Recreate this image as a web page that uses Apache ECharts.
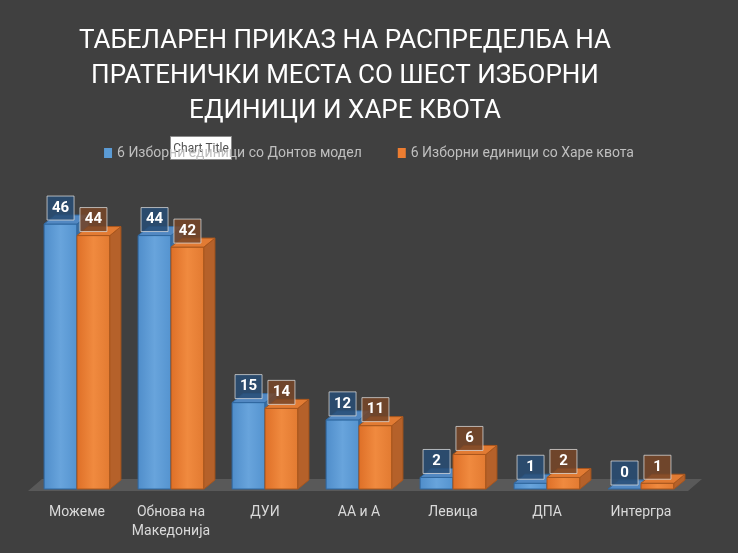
<!DOCTYPE html>
<html>
<head>
<meta charset="utf-8">
<script src="https://cdn.jsdelivr.net/npm/echarts@6/dist/echarts.min.js"></script>
<style>
  html, body { margin: 0; padding: 0; background: #404040; }
  #chart { width: 738px; height: 553px; }
</style>
</head>
<body>
<div id="chart"></div>
<script>
// податоци од графикот
const categories = ['Можеме', 'Обнова на\nМакедонија', 'ДУИ', 'АА и А', 'Левица', 'ДПА', 'Интергра'];
const seriesNames = ['6 Изборни единици со Донтов модел', '6 Изборни единици со Харе квота'];
const dontValues = [46, 44, 15, 12, 2, 1, 0];
const hareValues = [44, 42, 14, 11, 6, 2, 1];

const styles = [
  {
    front: ['#4f8dca', '#68a4dc', '#5493cf'],
    side: '#3e6f9f',
    top: '#5288c2',
    edge: '#2f679f',
    labelBg: 'rgba(40,78,118,0.85)'
  },
  {
    front: ['#de6f27', '#f08a3f', '#e27a31'],
    side: '#b5612a',
    top: '#e27b33',
    edge: '#a9561d',
    labelBg: 'rgba(120,70,40,0.85)'
  }
];

const DX = 11, DY = -9;

function bar3d(seriesIndex) {
  const st = styles[seriesIndex];
  return function (params, api) {
    const idx = api.value(0);
    const val = api.value(1);
    const top = api.coord([idx, val]);
    const base = api.coord([idx, 0]);
    const band = api.size([1, 0])[0];
    const w = band * 0.35;
    const x0 = seriesIndex === 0 ? top[0] - w : top[0];
    const x1 = x0 + w;
    const yT = top[1], yB = base[1];
    const h = yB - yT;
    const children = [];
    if (h > 0) {
      children.push({
        type: 'rect',
        shape: { x: x0, y: yT, width: w, height: h },
        style: {
          fill: new echarts.graphic.LinearGradient(0, 0, 1, 0, [
            { offset: 0, color: st.front[0] },
            { offset: 0.5, color: st.front[1] },
            { offset: 1, color: st.front[2] }
          ]),
          stroke: st.edge, lineWidth: 1
        }
      });
      children.push({
        type: 'polygon',
        shape: { points: [[x1, yT], [x1 + DX, yT + DY], [x1 + DX, yB + DY], [x1, yB]] },
        style: { fill: st.side, stroke: st.edge, lineWidth: 1 }
      });
    }
    children.push({
      type: 'polygon',
      shape: { points: [[x0, yT], [x0 + DX, yT + DY], [x1 + DX, yT + DY], [x1, yT]] },
      style: { fill: st.top, stroke: st.edge, lineWidth: 1 }
    });
    // ознака со вредност
    const bw = 27, bh = 24;
    const cx = x0 + w / 2;
    const by = yT - 4 - bh;
    children.push({
      type: 'rect',
      shape: { x: cx - bw / 2, y: by, width: bw, height: bh },
      style: { fill: st.labelBg, stroke: 'rgba(220,220,220,0.75)', lineWidth: 1 }
    });
    children.push({
      type: 'text',
      style: {
        text: String(val),
        x: cx, y: by + bh / 2,
        align: 'center', verticalAlign: 'middle',
        fill: '#ffffff',
        font: 'bold 15px Roboto, sans-serif'
      }
    });
    return { type: 'group', children: children };
  };
}

function floor(params, api) {
  const first = api.coord([0, 0]);
  const last = api.coord([categories.length - 1, 0]);
  const band = api.size([1, 0])[0];
  const xl = first[0] - band / 2 - 2;
  const xr = last[0] + band / 2;
  const y = first[1] + 2;
  return {
    type: 'polygon',
    shape: { points: [[xl, y], [xl + 14, y - 12], [xr + 14, y - 12], [xr, y]] },
    style: { fill: '#595959' }
  };
}

const chart = echarts.init(document.getElementById('chart'));

chart.setOption({
  backgroundColor: '#404040',
  animation: false,
  title: {
    text: 'ТАБЕЛАРЕН ПРИКАЗ НА РАСПРЕДЕЛБА НА\nПРАТЕНИЧКИ МЕСТА СО ШЕСТ ИЗБОРНИ\nЕДИНИЦИ И ХАРЕ КВОТА',
    left: 340,
    top: 19,
    textAlign: 'center',
    textStyle: {
      color: '#ffffff',
      fontSize: 26,
      fontWeight: 'normal',
      lineHeight: 35,
      fontFamily: 'Roboto, sans-serif'
    }
  },
  legend: {
    top: 141,
    left: 'center',
    icon: 'rect',
    itemWidth: 8,
    itemHeight: 10,
    itemGap: 36,
    data: seriesNames,
    textStyle: { color: '#bfbfbf', fontSize: 14, fontFamily: 'Roboto, sans-serif' }
  },
  grid: { left: 30, right: 50, top: 201, bottom: 64 },
  xAxis: {
    type: 'category',
    data: categories,
    axisLine: { show: false },
    axisTick: { show: false },
    axisLabel: {
      interval: 0,
      color: '#d9d9d9',
      fontSize: 14,
      lineHeight: 19,
      margin: 14,
      fontFamily: 'Roboto, sans-serif'
    }
  },
  yAxis: { type: 'value', min: 0, max: 50, show: false },
  series: [
    {
      type: 'custom',
      renderItem: floor,
      data: [[0, 0]],
      silent: true,
      z: 1
    },
    {
      name: seriesNames[0],
      type: 'custom',
      renderItem: bar3d(0),
      itemStyle: { color: '#5b9bd5' },
      data: dontValues.map((v, i) => [i, v]),
      z: 2
    },
    {
      name: seriesNames[1],
      type: 'custom',
      renderItem: bar3d(1),
      itemStyle: { color: '#ed7d31' },
      data: hareValues.map((v, i) => [i, v]),
      z: 3
    }
  ],
  graphic: [
    {
      type: 'group',
      left: 170,
      top: 136,
      z: 100,
      children: [
        {
          type: 'rect',
          shape: { x: 0, y: 0, width: 61, height: 23 },
          style: { fill: '#ffffff', stroke: '#8a8a8a', lineWidth: 1 }
        },
        {
          type: 'text',
          style: {
            text: 'Chart Title', x: 30.5, y: 12,
            align: 'center', verticalAlign: 'middle',
            fill: '#505050', font: '12px Roboto, sans-serif'
          }
        }
      ]
    }
  ]
});
</script>
</body>
</html>
